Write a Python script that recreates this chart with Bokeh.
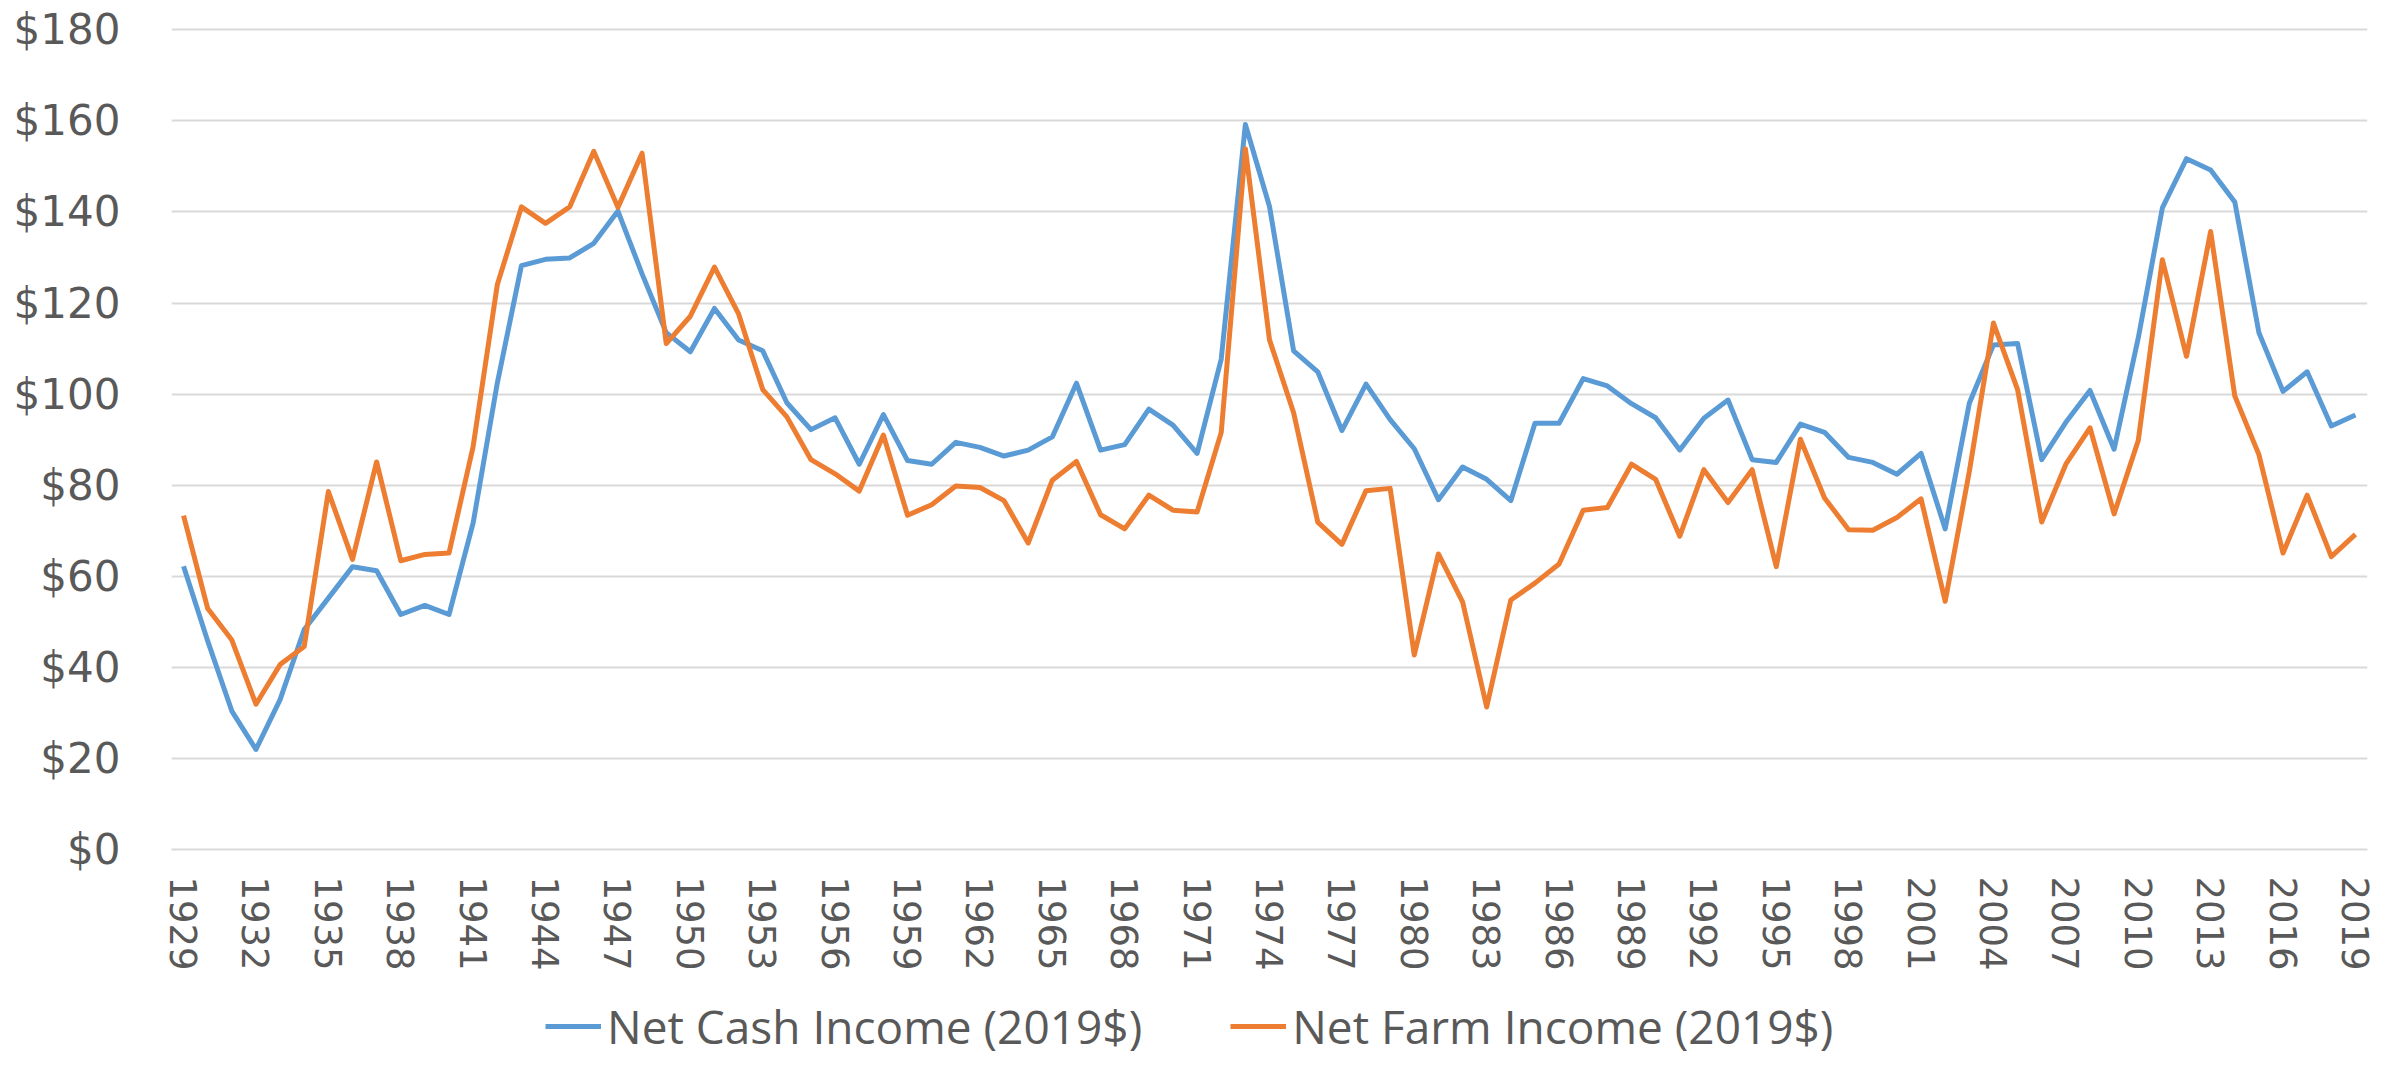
from bokeh.plotting import figure
from bokeh.layouts import column
from bokeh.models import (ColumnDataSource, FixedTicker, NumeralTickFormatter,
                          Legend, LegendItem, Range1d)
from bokeh.embed import file_html
from bokeh.resources import INLINE

years = list(range(1929, 2020))

net_cash_income = [
    62.2, 45.8, 30.4, 22.0, 32.9, 48.3, 55.2, 62.1, 61.2, 51.6,
    53.6, 51.6, 71.7, 102.4, 128.2, 129.6, 129.9, 133.1, 140.2, 126.4,
    113.5, 109.3, 118.8, 111.9, 109.5, 98.1, 92.2, 94.8, 84.6, 95.5,
    85.4, 84.6, 89.4, 88.3, 86.4, 87.7, 90.6, 102.4, 87.7, 88.9,
    96.7, 93.2, 87.0, 107.7, 159.2, 141.2, 109.5, 104.9, 92.0, 102.2,
    94.4, 88.0, 76.8, 84.0, 81.3, 76.6, 93.6, 93.6, 103.4, 101.8,
    97.9, 94.8, 87.7, 94.7, 98.7, 85.6, 85.0, 93.4, 91.6, 86.1,
    85.0, 82.4, 87.0, 70.4, 98.0, 110.8, 111.1, 85.6, 93.8, 100.8,
    87.9, 112.3, 140.9, 151.7, 149.2, 142.2, 113.5, 100.6, 104.9, 93.0,
    95.4,
]

net_farm_income = [
    73.3, 52.9, 46.0, 31.9, 40.6, 44.6, 78.6, 63.7, 85.1, 63.4,
    64.8, 65.1, 88.5, 124.0, 141.1, 137.5, 141.1, 153.3, 141.0, 152.9,
    111.1, 117.1, 127.9, 117.6, 101.0, 95.0, 85.6, 82.5, 78.7, 91.0,
    73.4, 75.7, 79.8, 79.5, 76.6, 67.3, 81.1, 85.2, 73.5, 70.4,
    77.8, 74.5, 74.1, 91.6, 153.9, 111.9, 95.9, 71.9, 67.0, 78.8,
    79.3, 42.7, 64.9, 54.4, 31.3, 54.8, 58.5, 62.7, 74.5, 75.1,
    84.6, 81.3, 68.8, 83.4, 76.2, 83.4, 62.1, 90.1, 77.2, 70.2,
    70.1, 72.9, 77.0, 54.5, 83.0, 115.6, 101.0, 71.9, 84.6, 92.6,
    73.7, 89.8, 129.5, 108.3, 135.7, 99.6, 86.7, 65.1, 77.8, 64.3,
    69.2,
]

x_tick_years = list(range(1929, 2020, 3))
y_ticks = list(range(0, 181, 20))

series_names = ["Net Cash Income (2019$)", "Net Farm Income (2019$)"]
series_colors = ["#5B9BD5", "#ED7D31"]

src = ColumnDataSource(dict(year=years, cash=net_cash_income, farm=net_farm_income))

p = figure(width=2386, height=990, output_backend="svg", toolbar_location=None,
           x_range=Range1d(1928.5, 2019.5), y_range=Range1d(0, 180.5),
           min_border_left=171, min_border_right=19, min_border_top=27,
           min_border_bottom=141)
p.outline_line_color = None
p.background_fill_color = "white"

p.line("year", "cash", source=src, line_color=series_colors[0], line_width=5,
       line_join="round")
p.line("year", "farm", source=src, line_color=series_colors[1], line_width=5,
       line_join="round")

# Axes
p.xaxis.ticker = FixedTicker(ticks=x_tick_years)
p.xaxis.major_label_orientation = "vertical"
p.xaxis.major_label_text_font = "DejaVu Sans"
p.xaxis.major_label_text_font_size = "37px"
p.xaxis.major_label_text_color = "#595959"
p.xaxis.major_tick_line_color = None
p.xaxis.minor_tick_line_color = None
p.xaxis.axis_line_color = "#d9d9d9"
p.xaxis.axis_line_width = 2
p.xaxis.major_label_standoff = 21

p.yaxis.ticker = FixedTicker(ticks=y_ticks)
p.yaxis.formatter = NumeralTickFormatter(format="$0")
p.yaxis.major_label_text_font = "DejaVu Sans"
p.yaxis.major_label_text_font_size = "42px"
p.yaxis.major_label_text_color = "#595959"
p.yaxis.major_tick_line_color = None
p.yaxis.minor_tick_line_color = None
p.yaxis.axis_line_color = None
p.yaxis.major_label_standoff = 45

p.xgrid.grid_line_color = None
p.ygrid.ticker = FixedTicker(ticks=y_ticks)
p.ygrid.grid_line_color = "#d9d9d9"
p.ygrid.grid_line_width = 2

# Legend strip below the chart (key renderers sit outside the strip's range)
lg = figure(width=2386, height=67, output_backend="svg", toolbar_location=None,
            x_range=Range1d(0, 1), y_range=Range1d(0, 1),
            x_axis_location=None, y_axis_location=None,
            min_border_left=0, min_border_right=0, min_border_top=0, min_border_bottom=0)
lg.outline_line_color = None
lg.xgrid.visible = False
lg.ygrid.visible = False
k1 = lg.line(x=[-5, -4], y=[-5, -5], line_color=series_colors[0], line_width=5)
k2 = lg.line(x=[-5, -4], y=[-5, -5], line_color=series_colors[1], line_width=5)

legend = Legend(items=[LegendItem(label=series_names[0], renderers=[k1]),
                       LegendItem(label=series_names[1], renderers=[k2])],
                orientation="horizontal", location=(374, 0),
                label_text_font="Open Sans", label_text_font_size="46px",
                label_text_color="#595959", glyph_width=56, glyph_height=20,
                label_standoff=6, spacing=88, padding=0, margin=0,
                border_line_color=None, background_fill_alpha=0)
lg.add_layout(legend)

open("out.html", "w").write(file_html(column(p, lg, spacing=0), INLINE))
